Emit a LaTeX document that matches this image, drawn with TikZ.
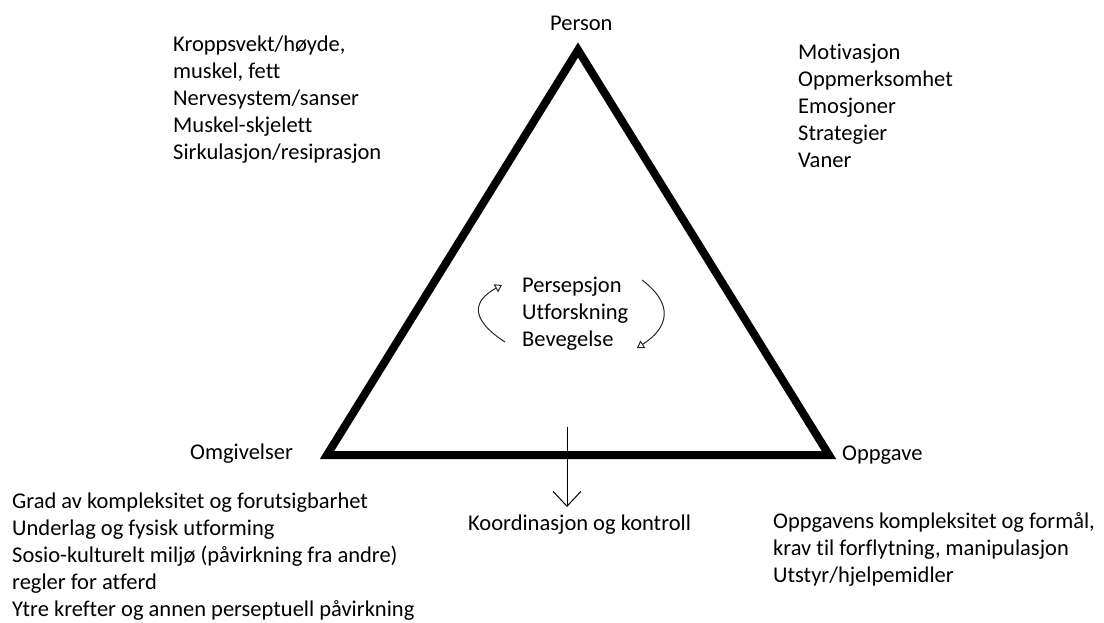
\documentclass[tikz,border=0pt]{standalone}
\usepackage{fontspec}
\setmainfont{Carlito}[Ligatures={NoCommon}]
\usetikzlibrary{arrows.meta, positioning}
\tikzset{
	px/.style={x=1pt,y=-1pt},
	txt/.style={inner sep=0pt, font=\fontsize{22.5}{27}\selectfont},
	block/.style={txt, align=left, anchor=base west},
	tri/.style={line width=8pt, line join=miter},
	cyc/.style={line width=1pt, black!85, -{Triangle[open,length=7pt,width=9pt]}},
	down/.style={line width=1pt, -{Straight Barb[length=15pt,width=28pt]}}
}

\begin{document}
\begin{tikzpicture}[px]
	\useasboundingbox (0,0) rectangle (1104,622);

	%% corners of the triangle
	\coordinate (person)	at (578,50);
	\coordinate (omgiv)		at (327,455);
	\coordinate (oppg)		at (829,455);

	\draw[tri] (person)--(omgiv)--(oppg)--cycle;

	\node[txt, anchor=base west] (lperson)	at (550,30)	{Person};
	\node[txt, anchor=base west] (lomgiv)	at (190,459)	{Omgivelser};
	\node[txt, anchor=base west] (loppg)	at (842,460)	{Oppgave};

	%% the factors round the triangle (placed by their last line)
	\node[block] (kropp)	at (173,159)	{Kroppsvekt/høyde,\\muskel, fett\\Nervesystem/sanser\\Muskel-skjelett\\Sirkulasjon/resiprasjon};
	\node[block] (psyk)		at (798,167)	{Motivasjon\\Oppmerksomhet\\Emosjoner\\Strategier\\Vaner};
	\node[block] (miljo)	at (12,616)	{Grad av kompleksitet og forutsigbarhet\\Underlag og fysisk utforming\\Sosio-kulturelt miljø (påvirkning fra andre)\\regler for atferd\\Ytre krefter og annen perseptuell påvirkning};
	\node[block] (oppgave)	at (773,582)	{Oppgavens kompleksitet og formål,\\krav til forflytning, manipulasjon\\Utstyr/hjelpemidler};

	%% centre cycle
	\node[block] (midt)		at (522,346)	{Persepsjon\\Utforskning\\Bevegelse};
	\coordinate (cl1)	at (505,342);
	\coordinate (cl2)	at (502,285);
	\coordinate (cr1)	at (642,280);
	\coordinate (cr2)	at (637,348);
	\draw[cyc] (cl1) .. controls (468,318) and (474,300) .. (cl2);
	\draw[cyc] (cr1) .. controls (675,305) and (668,328) .. (cr2);

	%% result
	\node[txt, anchor=base west] (koord)	at (468,530)	{Koordinasjon og kontroll};
	\coordinate (ka)	at (567,427);
	\coordinate (kb)	at (567,507);
	\draw[down] (ka)--(kb);

\end{tikzpicture}
\end{document}
